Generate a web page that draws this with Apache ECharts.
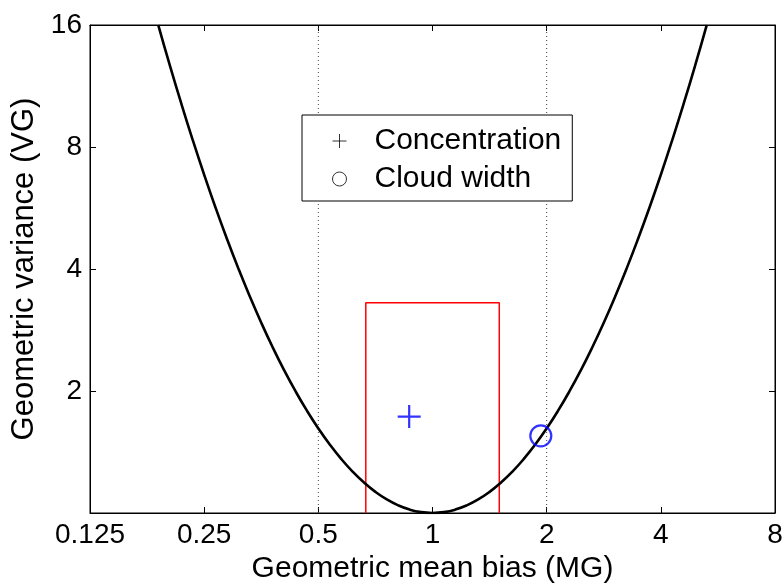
<!DOCTYPE html>
<html>
<head>
<meta charset="utf-8">
<script src="https://cdn.jsdelivr.net/npm/echarts@6/dist/echarts.min.js"></script>
<style>
html,body{margin:0;padding:0;background:#fff;}
#main{width:784px;height:583px;}
</style>
</head>
<body>
<div id="main"></div>
<script>
// values
var xTicks = [0.125, 0.25, 0.5, 1, 2, 4, 8];
var yTicks = [1, 2, 4, 8, 16];
// minimum VG curve (MG, VG)
var curveMG = [0.18916, 0.18946, 0.20306, 0.21764, 0.23326, 0.25, 0.26794, 0.28717, 0.30779, 0.32988, 0.35355,
	0.37893, 0.40613, 0.43528, 0.46652, 0.5, 0.53589, 0.57435, 0.61557, 0.65975, 0.70711, 0.75786, 0.81225,
	0.87055, 0.93303, 1, 1.07177, 1.1487, 1.23114, 1.31951, 1.41421, 1.51572, 1.6245, 1.7411, 1.86607, 2,
	2.14355, 2.2974, 2.46229, 2.63902, 2.82843, 3.03143, 3.24901, 3.4822, 3.73213, 4, 4.28709, 4.59479,
	4.92458, 5.27803, 5.2865];
var curveVG = [16, 15.917, 12.6999, 10.2309, 8.32157, 6.83353, 5.66552, 4.74327, 4.00877, 3.42103, 2.9477,
	2.56427, 2.25222, 1.99739, 1.78849, 1.61676, 1.47576, 1.35999, 1.26545, 1.18882, 1.12762, 1.0799, 1.04419,
	1.0194, 1.00482, 1, 1.00482, 1.0194, 1.04419, 1.0799, 1.12762, 1.18882, 1.26545, 1.35999, 1.47576, 1.61676,
	1.78849, 1.99739, 2.25222, 2.56427, 2.9477, 3.42103, 4.00877, 4.74327, 5.66552, 6.83353, 8.32157, 10.2309,
	12.6999, 15.917, 16];
var boxMG = [0.667, 0.667, 1.5, 1.5];
var boxVG = [1, 3.3, 3.3, 1];
var guideMG = [0.5, 2];
var concMG = [0.868], concVG = [1.73];
var cloudMG = [1.93], cloudVG = [1.55];

function pairs(xs, ys){
	var out = [];
	for (var i = 0; i < xs.length; i++) out.push([xs[i], ys[i]]);
	return out;
}
function fmtNum(v){
	return String(+(+v).toPrecision(6));
}

var font = 'Liberation Sans, Arial, sans-serif';
var plusPath = 'path://M0,5L10,5M5,0L5,10';

var guideSeries = guideMG.map(function(g){
	return {
		type: 'line', silent: true, symbol: 'none', z: 1,
		data: [[g, 1], [g, 16]],
		lineStyle: {color: '#444', width: 1, type: [1, 3]}
	};
});

var myChart = echarts.init(document.getElementById('main'), null, {renderer: 'canvas'});
var option = {
	animation: false,
	backgroundColor: '#fff',
	textStyle: {fontFamily: font},
	grid: {left: 90, right: 9, top: 25, bottom: 70, outerBoundsMode: 'none', containLabel: false,
		show: true, borderColor: '#000', borderWidth: 1, backgroundColor: 'transparent'},
	legend: {
		left: 302, top: 115, orient: 'vertical',
		padding: [11, 11, 7, 30],
		borderColor: '#000', borderWidth: 1, backgroundColor: '#fff',
		itemWidth: 60, itemHeight: 14, itemGap: 8,
		textStyle: {fontFamily: font, fontSize: 30, color: '#000', lineHeight: 30},
		data: [
			{name: 'Concentration', icon: plusPath, itemStyle: {color: 'transparent', borderColor: '#000', borderWidth: 1}},
			{name: 'Cloud width', icon: 'circle', itemStyle: {color: 'transparent', borderColor: '#000', borderWidth: 1}}
		]
	},
	xAxis: [{
		type: 'log', logBase: 2, min: 0.125, max: 8, splitNumber: 6,
		name: 'Geometric mean bias (MG)', nameLocation: 'middle', nameGap: 37,
		nameTextStyle: {fontFamily: font, fontSize: 30, color: '#000'},
		axisLine: {show: true, lineStyle: {color: '#000', width: 1}},
		axisTick: {inside: true, length: 6, lineStyle: {color: '#000'}},
		axisLabel: {fontFamily: font, fontSize: 28, color: '#000', margin: 8, formatter: fmtNum},
		splitLine: {show: false}
	}, {
		type: 'log', logBase: 2, min: 0.125, max: 8, splitNumber: 6, position: 'top',
		axisLine: {show: true, lineStyle: {color: '#000', width: 1}},
		axisTick: {inside: true, length: 6, lineStyle: {color: '#000'}},
		axisLabel: {show: false}, splitLine: {show: false}
	}],
	yAxis: [{
		type: 'log', logBase: 2, min: 1, max: 16, splitNumber: 4,
		name: 'Geometric variance (VG)', nameLocation: 'middle', nameGap: 50,
		nameTextStyle: {fontFamily: font, fontSize: 31, color: '#000'},
		axisLine: {show: true, lineStyle: {color: '#000', width: 1}},
		axisTick: {inside: true, length: 6, lineStyle: {color: '#000'}},
		axisLabel: {fontFamily: font, fontSize: 28, color: '#000', margin: 8, formatter: function(v){
			return Math.abs(v - 1) < 1e-9 ? '' : fmtNum(v);
		}},
		splitLine: {show: false}
	}, {
		type: 'log', logBase: 2, min: 1, max: 16, splitNumber: 4, position: 'right',
		axisLine: {show: true, lineStyle: {color: '#000', width: 1}},
		axisTick: {inside: true, length: 6, lineStyle: {color: '#000'}},
		axisLabel: {show: false}, splitLine: {show: false}
	}],
	series: guideSeries.concat([
		{
			name: 'box', type: 'line', symbol: 'none', z: 2, silent: true,
			data: pairs(boxMG, boxVG),
			lineStyle: {color: '#ff0000', width: 1.5}
		},
		{
			name: 'curve', type: 'line', symbol: 'none', smooth: true, z: 3, silent: true,
			data: pairs(curveMG, curveVG),
			lineStyle: {color: '#000', width: 2.6}
		},
		{
			name: 'Concentration', type: 'scatter', z: 5,
			symbol: plusPath, symbolSize: 23,
			data: pairs(concMG, concVG),
			itemStyle: {color: 'transparent', borderColor: '#0000ff', borderWidth: 2.2}
		},
		{
			name: 'Cloud width', type: 'scatter', z: 5,
			symbol: 'circle', symbolSize: 21,
			data: pairs(cloudMG, cloudVG),
			itemStyle: {color: 'transparent', borderColor: '#0000ff', borderWidth: 2.2}
		}
	])
};
myChart.setOption(option, true);
</script>
</body>
</html>
